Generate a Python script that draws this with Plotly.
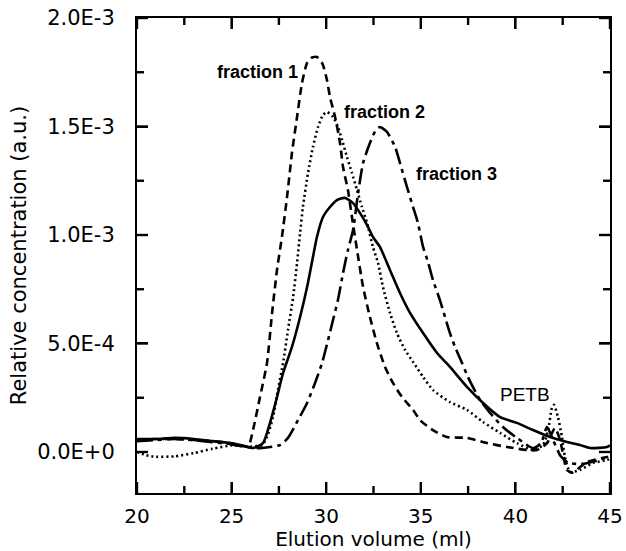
import plotly.graph_objects as go

# ---------------- data ----------------
f1_x = [20.0, 21.0, 22.0, 23.0, 24.0, 25.0, 25.5, 25.87, 26.13, 26.50, 26.87, 27.14, 27.40, 27.66,
        27.93, 28.19, 28.46, 28.72, 28.99, 29.25, 29.51, 29.80, 30.04, 30.20, 30.47, 30.73, 30.89,
        31.15, 31.36, 31.63, 31.95, 32.31, 32.68, 33.11, 33.53, 34.01, 34.59, 34.96, 35.64, 36.38,
        37.44, 38.50, 39.56, 40.61, 41.14, 41.67, 42.09, 42.36, 42.73, 43.00, 43.78, 44.84, 45.0]
f1_y = [5.5e-5, 6.0e-5, 6.0e-5, 5.5e-5, 5.0e-5, 4.0e-5, 3.0e-5, 2.3e-5, 1.01e-4, 2.53e-4, 4.10e-4,
        6.41e-4, 8.39e-4, 9.91e-4, 1.175e-3, 1.378e-3, 1.544e-3, 1.700e-3, 1.793e-3, 1.818e-3,
        1.820e-3, 1.790e-3, 1.714e-3, 1.636e-3, 1.544e-3, 1.424e-3, 1.313e-3, 1.207e-3, 1.083e-3,
        9.31e-4, 7.60e-4, 6.22e-4, 5.02e-4, 3.92e-4, 3.18e-4, 2.53e-4, 1.94e-4, 1.47e-4, 1.01e-4,
        6.9e-5, 6.5e-5, 4.1e-5, 2.3e-5, 9e-6, 9e-6, 4.1e-5, 1.10e-4, 5.5e-5, -8.3e-5, -9.5e-5,
        -4.6e-5, -2.3e-5, -2.0e-5]

f2_x = [20.0, 20.5, 21.0, 22.0, 23.0, 24.0, 25.0, 26.0, 26.61, 26.87, 27.19, 27.45, 27.72, 27.98,
        28.25, 28.46, 28.62, 28.77, 29.04, 29.30, 29.57, 29.83, 30.04, 30.36, 30.62, 30.84, 31.10,
        31.36, 31.63, 31.89, 32.16, 32.47, 32.74, 33.00, 33.37, 33.74, 34.17, 34.59, 35.12, 35.64,
        36.54, 37.44, 38.29, 39.19, 40.08, 40.93, 41.46, 41.73, 41.93, 42.04, 42.25, 42.46, 42.62,
        42.89, 43.41, 44.10, 44.84, 45.0]
f2_y = [0.0, -1.5e-5, -2.2e-5, -2.0e-5, -5.0e-6, 1.5e-5, 3.0e-5, 2.5e-5, 3.2e-5, 6.9e-5,
        1.61e-4, 2.86e-4, 4.10e-4, 5.62e-4, 7.14e-4, 8.71e-4, 1.009e-3, 1.129e-3, 1.286e-3,
        1.406e-3, 1.498e-3, 1.553e-3, 1.567e-3, 1.544e-3, 1.498e-3, 1.438e-3, 1.359e-3, 1.286e-3,
        1.207e-3, 1.129e-3, 1.055e-3, 9.45e-4, 8.71e-4, 7.60e-4, 6.41e-4, 5.48e-4, 4.70e-4,
        4.15e-4, 3.46e-4, 2.86e-4, 2.30e-4, 1.94e-4, 1.38e-4, 8.8e-5, 4.1e-5, 9e-6, 3.2e-5,
        1.01e-4, 2.03e-4, 2.17e-4, 1.61e-4, 6.9e-5, -2.3e-5, -9.2e-5, -8.3e-5, -5.1e-5, -3.7e-5,
        -3.0e-5]

f3_x = [20.0, 21.0, 22.0, 23.0, 24.0, 25.0, 26.0, 26.50, 27.03, 27.56, 27.98, 28.51, 28.99, 29.41,
        29.78, 30.10, 30.36, 30.62, 30.89, 31.15, 31.42, 31.68, 31.95, 32.31, 32.60, 32.84, 33.21,
        33.64, 33.90, 34.27, 34.59, 34.85, 35.12, 35.38, 35.64, 36.01, 36.28, 36.54, 36.81, 37.18,
        37.49, 38.13, 38.66, 39.34, 40.08, 40.93, 41.35, 41.67, 41.99, 42.40, 42.80, 43.50, 44.30,
        45.0]
f3_y = [5.0e-5, 5.5e-5, 6.0e-5, 5.5e-5, 4.5e-5, 3.5e-5, 2.0e-5, 1.8e-5, 2.3e-5, 3.2e-5, 6.5e-5,
        1.47e-4, 2.26e-4, 3.18e-4, 4.10e-4, 5.16e-4, 6.08e-4, 7.00e-4, 8.25e-4, 9.31e-4, 1.023e-3,
        1.190e-3, 1.332e-3, 1.424e-3, 1.480e-3, 1.498e-3, 1.475e-3, 1.406e-3, 1.332e-3, 1.221e-3,
        1.129e-3, 1.055e-3, 9.45e-4, 8.76e-4, 7.93e-4, 7.00e-4, 6.22e-4, 5.48e-4, 4.84e-4, 4.10e-4,
        3.46e-4, 2.40e-4, 1.80e-4, 1.15e-4, 6.5e-5, 1.8e-5, 4.0e-5, 1.15e-4, 5.5e-5, -2.0e-5,
        -5.0e-5, -5.5e-5, -4.0e-5, -2.0e-5]

sol_x = [20.0, 21.0, 22.0, 23.0, 24.0, 25.0, 25.8, 26.13, 26.66, 27.03, 27.40, 27.72, 28.19, 28.62,
         28.99, 29.30, 29.51, 29.83, 30.20, 30.57, 30.99, 31.42, 31.79, 32.16, 32.47, 32.84, 33.37,
         33.90, 34.43, 35.12, 35.86, 36.54, 37.44, 38.29, 39.19, 40.08, 40.93, 41.83, 42.73, 43.41,
         43.94, 44.84, 45.0]
sol_y = [6.0e-5, 6.0e-5, 6.5e-5, 6.0e-5, 5.0e-5, 4.0e-5, 2.5e-5, 1.8e-5, 4.1e-5, 1.34e-4, 2.53e-4,
         3.64e-4, 4.84e-4, 6.22e-4, 7.60e-4, 8.99e-4, 9.91e-4, 1.083e-3, 1.129e-3, 1.161e-3,
         1.171e-3, 1.147e-3, 1.101e-3, 1.046e-3, 9.91e-4, 9.45e-4, 8.39e-4, 7.33e-4, 6.41e-4,
         5.48e-4, 4.56e-4, 3.92e-4, 3.00e-4, 2.26e-4, 1.61e-4, 1.34e-4, 1.01e-4, 6.9e-5, 4.6e-5,
         3.2e-5, 1.8e-5, 2.3e-5, 3.0e-5]

x_range = [20, 45]
y_range = [-1.89e-4, 2.0e-3]
x_tick_vals = [20, 25, 30, 35, 40, 45]
y_tick_vals = [0.0, 5e-4, 1e-3, 1.5e-3, 2e-3]
y_tick_text = ["0.0E+0", "5.0E-4", "1.0E-3", "1.5E-3", "2.0E-3"]

FONT = "DejaVu Sans"
AFONT = "Liberation Sans"

W, H = 626, 551
M = dict(l=137, r=16, t=18, b=58)
plot_w = W - M["l"] - M["r"]
plot_h = H - M["t"] - M["b"]

fig = go.Figure()
fig.add_trace(go.Scatter(x=f1_x, y=f1_y, mode="lines", line=dict(color="black", width=2.6, dash="8px,5px", shape="spline", smoothing=0.6), showlegend=False))
fig.add_trace(go.Scatter(x=f2_x, y=f2_y, mode="lines", line=dict(color="black", width=2.6, dash="2px,3px", shape="spline", smoothing=0.6), showlegend=False))
fig.add_trace(go.Scatter(x=f3_x, y=f3_y, mode="lines", line=dict(color="black", width=2.6, dash="16px,5px,4px,5px", shape="spline", smoothing=0.6), showlegend=False))
fig.add_trace(go.Scatter(x=sol_x, y=sol_y, mode="lines", line=dict(color="black", width=2.6, shape="spline", smoothing=0.6), showlegend=False))

# inward tick marks on all four sides, built from the tick values (lengths given in pixels)
x_minor = [v + 2.5 for v in x_tick_vals[:-1]]
y_minor = [v + 2.5e-4 for v in y_tick_vals[:-1]]
dx_per_px = (x_range[1] - x_range[0]) / plot_w
dy_per_px = (y_range[1] - y_range[0]) / plot_h
for vals, length in ((x_tick_vals, 11), (x_minor, 7)):
    for v in vals:
        for base, sign in ((y_range[0], 1), (y_range[1], -1)):
            fig.add_trace(go.Scatter(x=[v, v], y=[base, base + sign * length * dy_per_px], mode="lines",
                                     line=dict(color="black", width=2.4), hoverinfo="skip", showlegend=False))
for vals, length in ((y_tick_vals, 11), (y_minor, 7)):
    for v in vals:
        for base, sign in ((x_range[0], 1), (x_range[1], -1)):
            fig.add_trace(go.Scatter(x=[base, base + sign * length * dx_per_px], y=[v, v], mode="lines",
                                     line=dict(color="black", width=2.4), hoverinfo="skip", showlegend=False))

ann_font = dict(family=AFONT, size=18, color="black")
fig.add_annotation(x=28.62, y=1.751e-3, text="<b>fraction 1</b>", showarrow=False, xanchor="right", yanchor="middle", font=ann_font)
fig.add_annotation(x=30.83, y=1.567e-3, text="<b>fraction 2</b>", showarrow=False, xanchor="left", yanchor="middle", font=ann_font)
fig.add_annotation(x=34.64, y=1.281e-3, text="<b>fraction 3</b>", showarrow=False, xanchor="left", yanchor="middle", font=ann_font)
fig.add_annotation(x=39.08, y=2.63e-4, text="PETB", showarrow=False, xanchor="left", yanchor="middle", font=dict(family=AFONT, size=19, color="black"))

fig.update_layout(
    template="none",
    width=W, height=H, margin=dict(**M, autoexpand=False),
    plot_bgcolor="white", paper_bgcolor="white",
    xaxis=dict(
        range=x_range, tickmode="array", tickvals=x_tick_vals, ticktext=[str(v) for v in x_tick_vals],
        ticks="inside", ticklen=11, tickwidth=2, tickcolor="black",
        showline=True, linecolor="#000000", linewidth=2, mirror="ticks",
        showgrid=False, zeroline=False,
        tickfont=dict(family=FONT, size=20, color="black"), ticklabelstandoff=4,
        title=dict(text="Elution volume (ml)", font=dict(family=FONT, size=20, color="black"), standoff=6),
    ),
    yaxis=dict(
        range=y_range, tickmode="array", tickvals=y_tick_vals, ticktext=y_tick_text,
        ticks="inside", ticklen=11, tickwidth=2, tickcolor="black",
        showline=True, linecolor="#000000", linewidth=2, mirror="ticks",
        showgrid=False, zeroline=False,
        tickfont=dict(family=FONT, size=21, color="black"), ticklabelstandoff=16,
        title=dict(text="Relative concentration (a.u.)", font=dict(family=FONT, size=21, color="black"), standoff=5),
    ),
)

fig.write_html("out.html")
